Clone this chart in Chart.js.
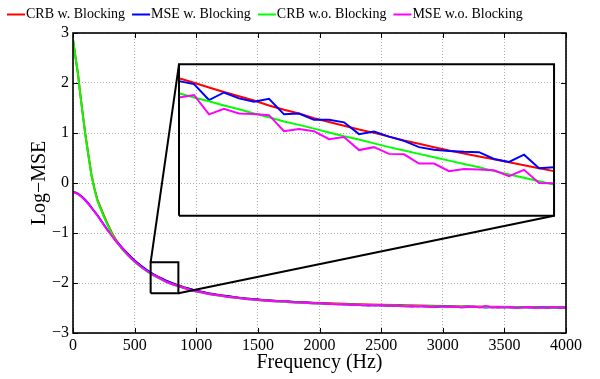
<!doctype html>
<html>
<head>
<meta charset="utf-8" />
<script src="https://cdn.jsdelivr.net/npm/chart.js@4.4.1/dist/chart.umd.min.js"></script>
<style>
  html, body { margin: 0; padding: 0; background: #fff; }
</style>
</head>
<body>
<canvas id="c" width="600" height="379"></canvas>
<script>
  const SERIF = '"Liberation Serif", "DejaVu Serif", serif';

  // CRB curves (smooth)
  const freqCrb = [0, 20, 40, 60, 80, 100, 125, 150, 175, 200, 225, 250, 275, 300, 325, 350, 375, 400,
    450, 500, 550, 600, 650, 700, 750, 800, 850, 900, 950, 1000, 1100, 1200, 1300, 1400, 1500, 1600,
    1800, 2000, 2200, 2400, 2600, 2800, 3000, 3200, 3400, 3600, 3800, 4000];
  const crbBlocking = [2.87, 2.52, 2.19, 1.76, 1.36, 0.98, 0.56, 0.16, -0.12, -0.35, -0.50, -0.65, -0.79,
    -0.92, -1.04, -1.14, -1.23, -1.31, -1.44, -1.56, -1.66, -1.75, -1.83, -1.89, -1.95, -2.00, -2.04,
    -2.085, -2.12, -2.155, -2.205, -2.245, -2.28, -2.31, -2.33, -2.35, -2.38, -2.40, -2.415, -2.43,
    -2.44, -2.45, -2.46, -2.468, -2.474, -2.48, -2.485, -2.49];
  const crbNoBlocking = [2.87, 2.52, 2.19, 1.75, 1.35, 0.97, 0.55, 0.15, -0.13, -0.37, -0.52, -0.67, -0.81,
    -0.94, -1.06, -1.16, -1.25, -1.33, -1.46, -1.58, -1.68, -1.77, -1.85, -1.91, -1.97, -2.02, -2.06,
    -2.10, -2.14, -2.17, -2.22, -2.26, -2.29, -2.32, -2.34, -2.36, -2.39, -2.41, -2.425, -2.44,
    -2.45, -2.46, -2.47, -2.475, -2.48, -2.485, -2.49, -2.495];

  // MSE curves (noisy)
  const freqMse = [0, 20, 40, 60, 80, 100, 125, 150, 175, 200, 225, 250, 275, 300, 325, 350, 375, 400,
    450, 500, 550, 600, 650, 700, 750, 800, 850, 900, 950, 1000,
    1050, 1100, 1150, 1200, 1250, 1300, 1350, 1400, 1450, 1500, 1550, 1600, 1650, 1700, 1750, 1800,
    1850, 1900, 1950, 2000, 2050, 2100, 2150, 2200, 2250, 2300, 2350, 2400, 2450, 2500, 2550, 2600,
    2650, 2700, 2750, 2800, 2850, 2900, 2950, 3000, 3050, 3100, 3150, 3200, 3250, 3300, 3350, 3400,
    3450, 3500, 3550, 3600, 3650, 3700, 3750, 3800, 3850, 3900, 3950, 4000];
  const mseBlocking = [-0.18, -0.19, -0.21, -0.25, -0.29, -0.34, -0.41, -0.49, -0.57, -0.65, -0.74, -0.83,
    -0.92, -1.00, -1.08, -1.16, -1.23, -1.30, -1.43, -1.55, -1.65, -1.74, -1.82, -1.89, -1.95, -2.00,
    -2.05, -2.09, -2.12, -2.16,
    -2.18, -2.21, -2.23, -2.25, -2.26, -2.28, -2.30, -2.31, -2.32, -2.33, -2.35, -2.35, -2.36, -2.37,
    -2.37, -2.38, -2.39, -2.39, -2.40, -2.41, -2.41, -2.42, -2.42, -2.43, -2.43, -2.44, -2.44, -2.45,
    -2.44, -2.45, -2.45, -2.46, -2.45, -2.46, -2.47, -2.46, -2.47, -2.47, -2.48, -2.47, -2.47, -2.48,
    -2.48, -2.47, -2.48, -2.48, -2.49, -2.48, -2.49, -2.48, -2.49, -2.49, -2.48, -2.49, -2.49, -2.48,
    -2.49, -2.49, -2.49, -2.49];
  const mseNoBlocking = [-0.19, -0.20, -0.22, -0.26, -0.30, -0.35, -0.42, -0.50, -0.58, -0.66, -0.75, -0.84,
    -0.93, -1.01, -1.09, -1.17, -1.24, -1.31, -1.45, -1.57, -1.67, -1.76, -1.84, -1.90, -1.97, -2.02,
    -2.06, -2.10, -2.14, -2.17,
    -2.19, -2.22, -2.24, -2.25, -2.28, -2.29, -2.30, -2.32, -2.33, -2.34, -2.35, -2.36, -2.37, -2.36,
    -2.38, -2.39, -2.39, -2.40, -2.41, -2.40, -2.42, -2.42, -2.43, -2.42, -2.44, -2.43, -2.45, -2.44,
    -2.45, -2.44, -2.46, -2.45, -2.46, -2.47, -2.46, -2.47, -2.46, -2.48, -2.47, -2.47, -2.48, -2.47,
    -2.49, -2.48, -2.47, -2.49, -2.46, -2.49, -2.48, -2.49, -2.48, -2.50, -2.49, -2.48, -2.50, -2.49,
    -2.50, -2.48, -2.50, -2.49];

  // zoomed window 630-855 Hz, shown in the inset
  const zoomFreq = [630, 639, 648, 657, 666, 675, 684, 693, 702, 711, 720, 729, 738, 747, 756, 765,
    774, 783, 792, 801, 810, 819, 828, 837, 846, 855];
  const zoomCrbBlocking = [-1.840, -1.851, -1.862, -1.873, -1.883, -1.893, -1.905, -1.915, -1.924, -1.935,
    -1.944, -1.953, -1.962, -1.970, -1.979, -1.988, -1.996, -2.004, -2.012, -2.019, -2.026, -2.033,
    -2.040, -2.047, -2.054, -2.061];
  const zoomMseBlocking = [-1.847, -1.854, -1.892, -1.874, -1.888, -1.896, -1.889, -1.926, -1.924, -1.939,
    -1.939, -1.945, -1.973, -1.967, -1.979, -1.989, -2.004, -2.010, -2.013, -2.015, -2.016, -2.032,
    -2.039, -2.022, -2.054, -2.052];
  const zoomCrbNoBlocking = [-1.876, -1.886, -1.895, -1.905, -1.914, -1.924, -1.933, -1.943, -1.951, -1.960,
    -1.969, -1.978, -1.986, -1.995, -2.004, -2.012, -2.020, -2.028, -2.036, -2.044, -2.052, -2.061,
    -2.069, -2.077, -2.085, -2.093];
  const zoomMseNoBlocking = [-1.886, -1.880, -1.926, -1.913, -1.924, -1.925, -1.928, -1.966, -1.961, -1.966,
    -1.985, -1.980, -2.011, -2.004, -2.020, -2.021, -2.043, -2.043, -2.061, -2.056, -2.057, -2.059,
    -2.073, -2.058, -2.089, -2.090];

  const seriesNames = ['CRB w. Blocking', 'MSE w. Blocking', 'CRB w.o. Blocking', 'MSE w.o. Blocking'];
  const seriesColors = ['#ff0000', '#0000ff', '#00ff00', '#ff00ff'];

  const zoomBoxX = [630, 855];
  const zoomBoxY = [-2.206, -1.586];
  const insetX = [860, 3903];
  const insetY = [-0.654, 2.374];
  const insetRangeY = [-2.167, -1.807];

  const xRange = [0, 4000];
  const yRange = [-3, 3];

  const pts = (xs, ys) => xs.map((x, i) => ({ x, y: ys[i] }));
  const toInset = (xs, ys) => xs.map((f, i) => ({
    x: insetX[0] + (f - zoomBoxX[0]) / (zoomBoxX[1] - zoomBoxX[0]) * (insetX[1] - insetX[0]),
    y: insetY[0] + (ys[i] - insetRangeY[0]) / (insetRangeY[1] - insetRangeY[0]) * (insetY[1] - insetY[0])
  }));
  const rect = (xs, ys) => [
    { x: xs[0], y: ys[0] }, { x: xs[1], y: ys[0] }, { x: xs[1], y: ys[1] },
    { x: xs[0], y: ys[1] }, { x: xs[0], y: ys[0] }
  ];

  const curve = (i, data, order) => ({
    label: seriesNames[i], data, borderColor: seriesColors[i], borderWidth: 2,
    pointRadius: 0, fill: false, tension: 0, order
  });
  const blackLine = (data) => ({
    label: '', data, borderColor: '#000', borderWidth: 2, pointRadius: 0, fill: false, tension: 0, order: 0
  });

  const datasets = [
    curve(0, pts(freqCrb, crbBlocking), 8),
    curve(1, pts(freqMse, mseBlocking), 7),
    curve(2, pts(freqCrb, crbNoBlocking), 6),
    curve(3, pts(freqMse, mseNoBlocking), 5),
    curve(0, toInset(zoomFreq, zoomCrbBlocking), 4),
    curve(1, toInset(zoomFreq, zoomMseBlocking), 3),
    curve(2, toInset(zoomFreq, zoomCrbNoBlocking), 2),
    curve(3, toInset(zoomFreq, zoomMseNoBlocking), 1),
    blackLine(rect(zoomBoxX, zoomBoxY)),
    blackLine(rect(insetX, insetY)),
    blackLine([{ x: zoomBoxX[0], y: zoomBoxY[1] }, { x: insetX[0], y: insetY[1] }]),
    blackLine([{ x: zoomBoxX[1], y: zoomBoxY[0] }, { x: insetX[1], y: insetY[0] }])
  ];

  const fmt = v => (v < 0 ? '\u2212' + Math.abs(v) : String(v));

  // MATLAB-like frame with inward ticks, plus the legend row
  const frame = {
    id: 'frame',
    afterDraw(chart) {
      const { ctx, chartArea: a, scales } = chart;
      ctx.save();
      ctx.strokeStyle = '#000';
      ctx.lineWidth = 1;
      ctx.beginPath();
      scales.x.ticks.forEach(t => {
        const px = Math.round(scales.x.getPixelForValue(t.value)) + 0.5;
        ctx.moveTo(px, a.bottom); ctx.lineTo(px, a.bottom - 5);
        ctx.moveTo(px, a.top); ctx.lineTo(px, a.top + 5);
      });
      scales.y.ticks.forEach(t => {
        const py = Math.round(scales.y.getPixelForValue(t.value)) + 0.5;
        ctx.moveTo(a.left, py); ctx.lineTo(a.left + 5, py);
        ctx.moveTo(a.right, py); ctx.lineTo(a.right - 5, py);
      });
      ctx.stroke();
      ctx.lineWidth = 1.6;
      ctx.strokeRect(a.left, a.top, a.right - a.left, a.bottom - a.top);

      ctx.font = '14px ' + SERIF;
      ctx.textBaseline = 'middle';
      ctx.fillStyle = '#000';
      let x = 7;
      const y = 14;
      chart.data.datasets.slice(0, 4).forEach(ds => {
        ctx.strokeStyle = ds.borderColor;
        ctx.lineWidth = 2;
        ctx.beginPath();
        ctx.moveTo(x, y + 0.5); ctx.lineTo(x + 18, y + 0.5);
        ctx.stroke();
        ctx.fillText(ds.label, x + 19, y);
        x += 19 + ctx.measureText(ds.label).width + 7;
      });
      ctx.restore();
    }
  };

  new Chart(document.getElementById('c'), {
    type: 'line',
    data: { datasets },
    plugins: [frame],
    options: {
      responsive: false,
      animation: false,
      devicePixelRatio: 1,
      layout: { padding: { top: 33, right: 34, left: 0, bottom: 0 } },
      plugins: { legend: { display: false }, tooltip: { enabled: false } },
      scales: {
        x: {
          type: 'linear', min: xRange[0], max: xRange[1],
          afterFit: s => { s.height = 46; },
          ticks: { stepSize: 500, padding: 3, color: '#000', font: { family: SERIF, size: 16 },
            maxRotation: 0, callback: v => String(v) },
          grid: { color: '#b0b0b0', lineWidth: 1, drawTicks: false },
          border: { display: false, dash: [1, 2] },
          title: { display: true, text: 'Frequency (Hz)', color: '#000',
            font: { family: SERIF, size: 20 }, padding: { top: 0, bottom: 4 } }
        },
        y: {
          type: 'linear', min: yRange[0], max: yRange[1],
          afterFit: s => { s.width = 73; },
          ticks: { stepSize: 1, padding: 4, color: '#000', font: { family: SERIF, size: 16 }, callback: fmt },
          grid: { color: '#b0b0b0', lineWidth: 1, drawTicks: false },
          border: { display: false, dash: [1, 2] },
          title: { display: true, text: 'Log\u2212MSE', color: '#000',
            font: { family: SERIF, size: 20 }, padding: { top: 28, bottom: 0 } }
        }
      }
    }
  });
</script>
</body>
</html>
